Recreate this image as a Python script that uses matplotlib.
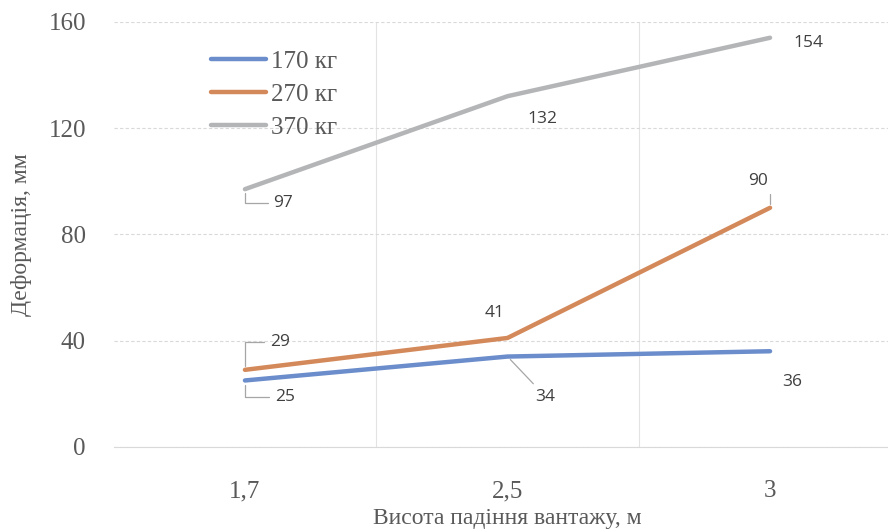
import matplotlib.pyplot as plt

# ----------------- DATA -----------------
heights = ["1,7", "2,5", "3"]
series_names = ["170 кг", "270 кг", "370 кг"]
def_170 = [25, 34, 36]
def_270 = [29, 41, 90]
def_370 = [97, 132, 154]
yticks = [0, 40, 80, 120, 160]

colors = ["#6b8dcb", "#d4895a", "#b3b5b7"]
label_color = "#404040"

# label offsets (pixels) from each point, and leader line style (None = no line)
ANG = "angle,angleA=0,angleB=90,rad=0"
offs_170 = [((40, -17), ANG), ((38, -40), "arc3"), ((22, -31), None)]
offs_270 = [((35, 28), ANG), ((-13, 25), None), ((-12, 27), ANG)]
offs_370 = [((38, -14), ANG), ((35, -23), None), ((38, -5), None)]

fig = plt.figure(figsize=(8.88, 5.32), dpi=100)
ax = fig.add_axes([0.128, 0.160, 0.887, 0.799])

x = list(range(len(heights)))
all_series = [def_170, def_270, def_370]
all_offs = [offs_170, offs_270, offs_370]

for vals, name, c, offs in zip(all_series, series_names, colors, all_offs):
    ax.plot(x, vals, color=c, lw=3.2, solid_capstyle="round", label=name, zorder=3)
    for xi, v, (off, conn) in zip(x, vals, offs):
        arrow = None
        if conn:
            arrow = dict(arrowstyle="-", color="#a6a6a6", lw=0.9,
                         shrinkA=2, shrinkB=3, connectionstyle=conn)
        ax.annotate(str(v), (xi, v), xytext=off, textcoords="offset pixels",
                    ha="center", va="center", fontsize=12.5,
                    family="Open Sans", color=label_color,
                    arrowprops=arrow, zorder=4)

ax.set_xlim(-0.5, 2.5)
ax.set_ylim(0, 160)
ax.set_xticks(x)
ax.set_xticklabels(heights)
ax.set_yticks(yticks)

for s in ["top", "right", "left"]:
    ax.spines[s].set_visible(False)
ax.spines["bottom"].set_color("#d9d9d9")

ax.grid(axis="y", color="#d9d9d9", ls=(0, (3, 2)), lw=0.8)
for b in [0.5, 1.5]:
    ax.axvline(b, color="#e3e3e3", lw=0.8, zorder=0)

ax.tick_params(axis="both", length=0, labelsize=18, colors="#595959")
ax.tick_params(axis="x", pad=24)
ax.tick_params(axis="y", pad=20)
for lab in ax.get_xticklabels() + ax.get_yticklabels():
    lab.set_family("Liberation Serif")

ax.set_ylabel("Деформація, мм", family="Liberation Serif", fontsize=17,
              color="#595959", labelpad=12)
ax.set_xlabel("Висота падіння вантажу, м", family="Liberation Serif",
              fontsize=17, color="#595959", labelpad=4)

leg = ax.legend(loc="upper left", bbox_to_anchor=(0.095, 0.985), frameon=False,
                prop={"family": "Liberation Serif", "size": 18},
                handlelength=2.2, handletextpad=0.2, labelspacing=0.42)
for t in leg.get_texts():
    t.set_color("#595959")

fig.savefig("out.png", dpi=100)
